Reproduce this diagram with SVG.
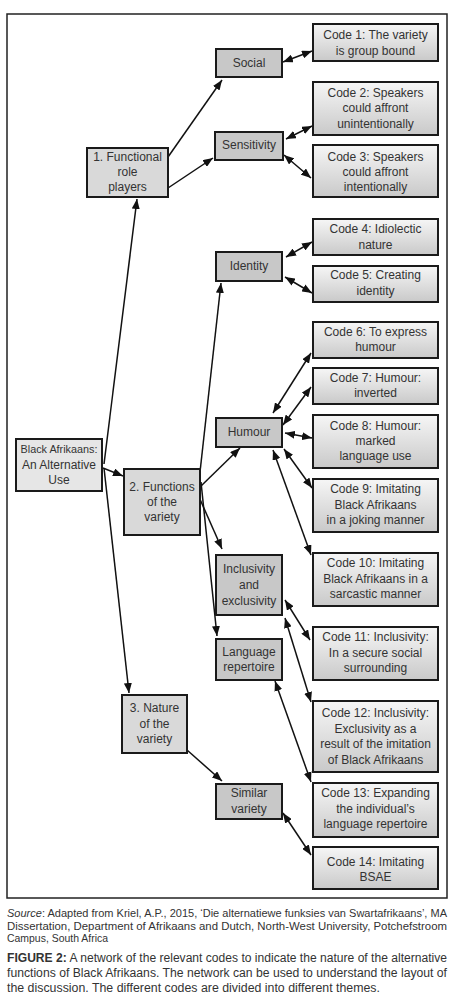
<svg xmlns="http://www.w3.org/2000/svg" width="454" height="1000" viewBox="0 0 454 1000">
<defs>
<linearGradient id="gCode" x1="0" y1="0" x2="0" y2="1">
<stop offset="0" stop-color="#f6f6f6"/>
<stop offset="1" stop-color="#c9c9c9"/>
</linearGradient>
<marker id="ah" viewBox="0 0 10 8" refX="10" refY="4" markerWidth="10" markerHeight="8" markerUnits="userSpaceOnUse" orient="auto-start-reverse">
<path d="M0,0 L10,4 L0,8 z" fill="#111"/>
</marker>
<style>
.theme{fill:#c8c8c8;stroke:#1a1a1a;stroke-width:2}
.cat{fill:#d9d9d9;stroke:#1a1a1a;stroke-width:2}
.root{fill:#e6e6e6;stroke:#1a1a1a;stroke-width:2}
.code{fill:url(#gCode);stroke:#1a1a1a;stroke-width:2}
.t{font-family:"Liberation Sans",Arial,sans-serif;font-size:12px;fill:#333;text-anchor:middle}
.c{stroke:#111;stroke-width:1.5;fill:none}
.one{marker-end:url(#ah)}
.two{marker-start:url(#ah);marker-end:url(#ah)}
.cap{font-family:"Liberation Sans",Arial,sans-serif;fill:#333}
</style>
</defs>
<rect x="7" y="14" width="440" height="884" fill="#fff" stroke="#222" stroke-width="1.5"/>

<g id="connectors">
<path class="c one" d="M168,157 L222,80"/>
<path class="c one" d="M168,188 L213,158"/>
<path class="c two" d="M283,62 L312,51"/>
<path class="c two" d="M286,139 L312,126"/>
<path class="c two" d="M284,155 L311,178"/>
<path class="c two" d="M286,257 L312,242"/>
<path class="c two" d="M285,277 L312,293"/>
<path class="c one" d="M104,464 L137,199"/>
<path class="c one" d="M103,468 L123,476"/>
<path class="c one" d="M104,468 L129,693"/>
<path class="c one" d="M200,472 L221,283"/>
<path class="c one" d="M201,482 L217,636"/>
<path class="c one" d="M200,487 L240,448"/>
<path class="c one" d="M199,497 L222,549"/>
<path class="c two" d="M273,413 L311,353"/>
<path class="c two" d="M283,425 L311,387"/>
<path class="c two" d="M285,433 L312,438"/>
<path class="c two" d="M284,449 L312,488"/>
<path class="c two" d="M273,450 L311,555"/>
<path class="c two" d="M285,600 L310,640"/>
<path class="c two" d="M285,618 L311,702"/>
<path class="c two" d="M275,681 L311,782"/>
<path class="c one" d="M187,750 L222,781"/>
<path class="c two" d="M283,813 L311,855"/>
</g>

<g id="root"><rect class="root" x="16" y="439" width="86" height="52"/>
<text class="t" x="59" y="453" style="font-size:10.8px">Black Afrikaans:</text>
<text class="t" x="59" y="469">An Alternative</text>
<text class="t" x="59" y="484">Use</text></g>

<g id="functional"><rect class="cat" x="87" y="148" width="81" height="49"/>
<text class="t" x="127.5" y="161">1. Functional</text>
<text class="t" x="127.5" y="176">role</text>
<text class="t" x="127.5" y="191">players</text></g>

<g id="functions"><rect class="cat" x="124" y="469" width="76" height="66"/>
<text class="t" x="162" y="491">2. Functions</text>
<text class="t" x="162" y="506">of the</text>
<text class="t" x="162" y="521">variety</text></g>

<g id="nature"><rect class="cat" x="122" y="695" width="65" height="58"/>
<text class="t" x="154.5" y="712">3. Nature</text>
<text class="t" x="154.5" y="728">of the</text>
<text class="t" x="154.5" y="743">variety</text></g>

<g id="social"><rect class="theme" x="216" y="49" width="66" height="28"/>
<text class="t" x="249" y="67">Social</text></g>
<g id="sensitivity"><rect class="theme" x="215" y="132" width="68" height="28"/>
<text class="t" x="249" y="149">Sensitivity</text></g>
<g id="identity"><rect class="theme" x="216" y="252" width="66" height="29"/>
<text class="t" x="249" y="270">Identity</text></g>
<g id="humour"><rect class="theme" x="216" y="418" width="66" height="29"/>
<text class="t" x="249" y="436">Humour</text></g>
<g id="inclusivity"><rect class="theme" x="216" y="555" width="66" height="60"/>
<text class="t" x="249" y="573">Inclusivity</text>
<text class="t" x="249" y="589">and</text>
<text class="t" x="249" y="605">exclusivity</text></g>
<g id="language"><rect class="theme" x="216" y="639" width="66" height="41"/>
<text class="t" x="249" y="656">Language</text>
<text class="t" x="249" y="671">repertoire</text></g>
<g id="similar"><rect class="theme" x="216" y="784" width="66" height="35"/>
<text class="t" x="249" y="797">Similar</text>
<text class="t" x="249" y="813">variety</text></g>

<g id="code1"><rect class="code" x="313" y="24" width="125" height="37"/>
<text class="t" x="375.5" y="39">Code 1: The variety</text>
<text class="t" x="375.5" y="55">is group bound</text></g>
<g id="code2"><rect class="code" x="313" y="82" width="125" height="53"/>
<text class="t" x="375.5" y="97">Code 2: Speakers</text>
<text class="t" x="375.5" y="112">could affront</text>
<text class="t" x="375.5" y="128">unintentionally</text></g>
<g id="code3"><rect class="code" x="313" y="145" width="125" height="52"/>
<text class="t" x="375.5" y="161">Code 3: Speakers</text>
<text class="t" x="375.5" y="176">could affront</text>
<text class="t" x="375.5" y="191">intentionally</text></g>
<g id="code4"><rect class="code" x="313" y="219" width="125" height="36"/>
<text class="t" x="375.5" y="233">Code 4: Idiolectic</text>
<text class="t" x="375.5" y="249">nature</text></g>
<g id="code5"><rect class="code" x="313" y="266" width="125" height="36"/>
<text class="t" x="375.5" y="279">Code 5: Creating</text>
<text class="t" x="375.5" y="295">identity</text></g>
<g id="code6"><rect class="code" x="313" y="322" width="125" height="36"/>
<text class="t" x="375.5" y="336">Code 6: To express</text>
<text class="t" x="375.5" y="351">humour</text></g>
<g id="code7"><rect class="code" x="313" y="368" width="125" height="36"/>
<text class="t" x="375.5" y="382">Code 7: Humour:</text>
<text class="t" x="375.5" y="397">inverted</text></g>
<g id="code8"><rect class="code" x="313" y="415" width="125" height="53"/>
<text class="t" x="375.5" y="430">Code 8: Humour:</text>
<text class="t" x="375.5" y="445">marked</text>
<text class="t" x="375.5" y="460">language use</text></g>
<g id="code9"><rect class="code" x="313" y="479" width="125" height="53"/>
<text class="t" x="375.5" y="493">Code 9: Imitating</text>
<text class="t" x="375.5" y="509">Black Afrikaans</text>
<text class="t" x="375.5" y="524">in a joking manner</text></g>
<g id="code10"><rect class="code" x="313" y="553" width="125" height="53"/>
<text class="t" x="375.5" y="567">Code 10: Imitating</text>
<text class="t" x="375.5" y="583">Black Afrikaans in a</text>
<text class="t" x="375.5" y="598">sarcastic manner</text></g>
<g id="code11"><rect class="code" x="313" y="627" width="125" height="53"/>
<text class="t" x="375.5" y="641">Code 11: Inclusivity:</text>
<text class="t" x="375.5" y="657">In a secure social</text>
<text class="t" x="375.5" y="672">surrounding</text></g>
<g id="code12"><rect class="code" x="313" y="701" width="125" height="71"/>
<text class="t" x="375.5" y="717">Code 12: Inclusivity:</text>
<text class="t" x="375.5" y="733">Exclusivity as a</text>
<text class="t" x="375.5" y="748">result of the imitation</text>
<text class="t" x="375.5" y="764">of Black Afrikaans</text></g>
<g id="code13"><rect class="code" x="313" y="783" width="125" height="54"/>
<text class="t" x="375.5" y="797">Code 13: Expanding</text>
<text class="t" x="375.5" y="813">the individual’s</text>
<text class="t" x="375.5" y="828">language repertoire</text></g>
<g id="code14"><rect class="code" x="313" y="847" width="125" height="42"/>
<text class="t" x="375.5" y="866">Code 14: Imitating</text>
<text class="t" x="375.5" y="881">BSAE</text></g>

<g id="caption">
<text class="cap" x="7" y="917" font-size="11" textLength="440" lengthAdjust="spacingAndGlyphs"><tspan font-style="italic">Source</tspan>: Adapted from Kriel, A.P., 2015, ‘Die alternatiewe funksies van Swartafrikaans’, MA</text>
<text class="cap" x="7" y="930" font-size="11" textLength="440" lengthAdjust="spacingAndGlyphs">Dissertation, Department of Afrikaans and Dutch, North-West University, Potchefstroom</text>
<text class="cap" x="7" y="942" font-size="11" textLength="101" lengthAdjust="spacingAndGlyphs">Campus, South Africa</text>
<text class="cap" x="7" y="962" font-size="12" fill="#222" textLength="440" lengthAdjust="spacingAndGlyphs"><tspan font-weight="bold">FIGURE 2:</tspan> A network of the relevant codes to indicate the nature of the alternative</text>
<text class="cap" x="7" y="977" font-size="12" fill="#222" textLength="440" lengthAdjust="spacingAndGlyphs">functions of Black Afrikaans. The network can be used to understand the layout of</text>
<text class="cap" x="7" y="992" font-size="12" fill="#222" textLength="373" lengthAdjust="spacingAndGlyphs">the discussion. The different codes are divided into different themes.</text>
</g>
</svg>
